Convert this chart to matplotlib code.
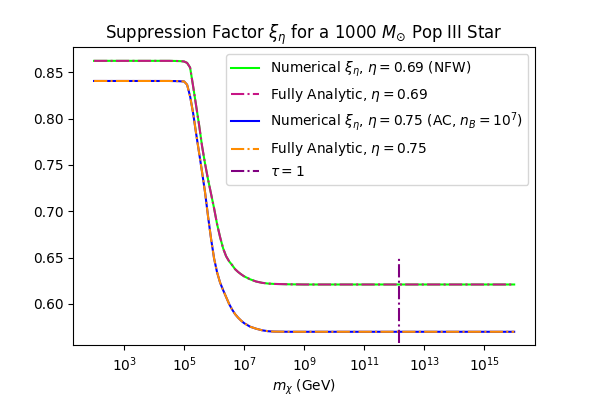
import matplotlib
matplotlib.use("Agg")
import matplotlib.pyplot as plt
import numpy as np

log_m = [2.0, 3.0, 4.0, 4.5, 4.8, 4.9, 5.0, 5.1, 5.2, 5.3, 5.4, 5.5, 5.6, 5.7,
         5.8, 5.9, 6.0, 6.1, 6.2, 6.3, 6.4, 6.5, 6.6, 6.7, 6.8, 6.9, 7.0,
         7.2, 7.4, 7.6, 7.8, 8.0, 8.5, 9.0, 10.0, 11.0, 12.0, 13.0, 14.0,
         15.0, 16.0]

# eta = 0.69, NFW
xi_069 = [0.8622, 0.8622, 0.8622, 0.8622, 0.8620, 0.8618, 0.8615, 0.8600,
          0.8550, 0.8350, 0.8140, 0.7930, 0.7700, 0.7510, 0.7340, 0.7185,
          0.7030, 0.6860, 0.6720, 0.6600, 0.6515, 0.6460, 0.6420, 0.6375,
          0.6345, 0.6320, 0.6298, 0.6266, 0.6242, 0.6228, 0.6220, 0.6216,
          0.6212, 0.6210, 0.6210, 0.6210, 0.6210, 0.6210, 0.6210, 0.6210,
          0.6210]

# eta = 0.75, AC with n_B = 1e7
xi_075 = [0.8405, 0.8405, 0.8405, 0.8405, 0.8403, 0.8401, 0.8400, 0.8365,
          0.8240, 0.8060, 0.7840, 0.7630, 0.7420, 0.7200, 0.6940, 0.6700,
          0.6490, 0.6340, 0.6230, 0.6150, 0.6075, 0.6000, 0.5940, 0.5890,
          0.5852, 0.5820, 0.5793, 0.5755, 0.5733, 0.5716, 0.5706, 0.5702,
          0.5700, 0.5700, 0.5700, 0.5700, 0.5700, 0.5700, 0.5700, 0.5700,
          0.5700]

tau1_mass = [1.48e12, 1.48e12]
tau1_xi = [0.558, 0.650]

m = 10.0 ** np.array(log_m)

fig = plt.figure(figsize=(6, 4), dpi=99)
ax = fig.add_axes([0.123, 0.128, 0.778, 0.753])

ax.plot(m, xi_069, color="lime", lw=1.5,
        label=r"Numerical $\xi_\eta$, $\eta = 0.69$ (NFW)")
ax.plot(m, xi_069, color="mediumvioletred", ls="-.", lw=1.5,
        label=r"Fully Analytic, $\eta = 0.69$")
ax.plot(m, xi_075, color="blue", lw=1.5,
        label=r"Numerical $\xi_\eta$, $\eta = 0.75$ (AC, $n_B = 10^7$)")
ax.plot(m, xi_075, color="darkorange", ls="-.", lw=1.5,
        label=r"Fully Analytic, $\eta = 0.75$")
ax.plot(tau1_mass, tau1_xi, color="purple", ls="-.", lw=1.5,
        label=r"$\tau = 1$")

ax.set_xscale("log")
ax.set_ylim(0.5554, 0.8770)
ax.set_xlabel(r"$m_\chi$ (GeV)", labelpad=3)
ax.set_title(r"Suppression Factor $\xi_\eta$ for a 1000 $M_{\odot}$ Pop III Star")
ax.legend(loc="upper right")

fig.savefig("out.png", dpi=99)
